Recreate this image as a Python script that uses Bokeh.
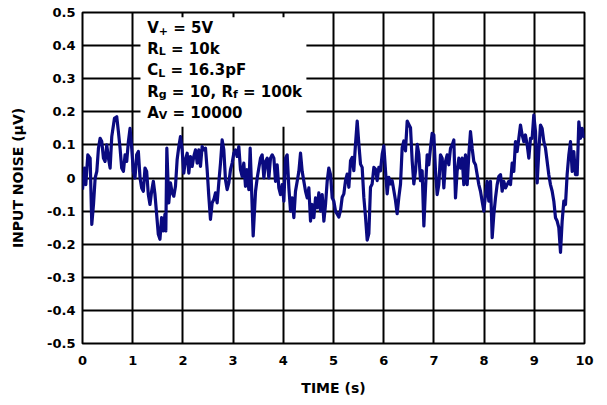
from bokeh.plotting import figure
from bokeh.models import Range1d, FixedTicker, CustomJSTickFormatter, BoxAnnotation, Label
from bokeh.embed import file_html
from bokeh.resources import INLINE

FONT = "DejaVu Sans"

# ---- data (time in s, noise in uV) ----
time_a = [0.00, 0.04, 0.066, 0.106, 0.152, 0.185, 0.219, 0.252, 0.285, 0.318,
          0.351, 0.384, 0.417, 0.450, 0.483, 0.517, 0.550, 0.583, 0.636, 0.682,
          0.715, 0.748, 0.781, 0.815, 0.848, 0.881, 0.914, 0.947, 0.980, 1.013,
          1.046, 1.079, 1.113, 1.146, 1.179, 1.212, 1.245, 1.278, 1.311, 1.344,
          1.377, 1.411, 1.444, 1.477, 1.510, 1.543, 1.576, 1.609, 1.642, 1.66, 1.68]
noise_a = [-0.035, 0.03, -0.02, 0.07, 0.06, -0.14, -0.08, 0.0, 0.02, 0.09,
           0.12, 0.11, 0.06, 0.05, 0.10, 0.06, 0.03, 0.125, 0.18, 0.185,
           0.14, 0.09, 0.03, 0.02, 0.07, 0.05, 0.11, 0.15, 0.09, 0.02,
           0.0, 0.07, 0.08, 0.0, -0.03, -0.04, 0.03, 0.02, -0.05, -0.08,
           -0.04, -0.01, -0.05, -0.11, -0.17, -0.185, -0.12, -0.16, -0.11, -0.16, 0.09]

time_b = [1.719, 1.753, 1.786, 1.819, 1.852, 1.885, 1.919, 1.952, 1.985, 2.018,
          2.051, 2.085, 2.118, 2.151, 2.184, 2.217, 2.251, 2.284, 2.317, 2.350,
          2.383, 2.417, 2.450, 2.483, 2.516, 2.549, 2.583, 2.616, 2.649, 2.682,
          2.715, 2.749, 2.782, 2.815, 2.848, 2.881, 2.915, 2.948, 2.981, 3.014,
          3.047, 3.081, 3.114, 3.147, 3.180, 3.213, 3.247, 3.280, 3.313, 3.34, 3.40]
noise_b = [-0.075, -0.015, -0.045, -0.055, -0.025, 0.055, 0.095, 0.125, 0.085, 0.015,
           0.055, 0.075, 0.015, 0.065, 0.035, 0.065, 0.085, 0.045, 0.085, 0.035,
           0.095, 0.085, 0.09, 0.025, -0.055, -0.125, -0.075, -0.065, -0.045, -0.075,
           -0.015, 0.045, 0.115, 0.085, -0.005, -0.035, -0.015, 0.025, 0.045, 0.075,
           0.085, 0.065, 0.095, 0.025, 0.005, 0.045, -0.025, 0.025, -0.035, 0.09, -0.175]

time_c = [3.447, 3.480, 3.513, 3.546, 3.579, 3.613, 3.646, 3.679, 3.712, 3.745,
          3.779, 3.812, 3.845, 3.878, 3.911, 3.945, 3.978, 4.011, 4.044, 4.077,
          4.111, 4.144, 4.177, 4.210, 4.243, 4.277, 4.310, 4.343, 4.376, 4.409,
          4.443, 4.476, 4.509, 4.542, 4.575, 4.609, 4.642, 4.675, 4.708, 4.741,
          4.775, 4.808, 4.841, 4.874, 4.907, 4.941, 4.974, 5.007, 5.040]
noise_c = [-0.04, 0.0, 0.03, 0.06, 0.07, 0.0, 0.05, 0.06, 0.0, 0.06,
           0.07, 0.06, -0.01, 0.04, -0.03, -0.05, -0.02, -0.07, 0.06, 0.07,
           -0.03, -0.10, -0.06, -0.12, -0.04, -0.01, 0.02, 0.075, 0.02, -0.01,
           -0.04, -0.06, -0.03, -0.13, -0.08, -0.12, -0.06, -0.09, -0.045, -0.10,
           -0.05, -0.13, -0.08, -0.01, 0.03, 0.01, -0.06, -0.07, -0.10]

time_d = [5.106, 5.140, 5.173, 5.206, 5.239, 5.272, 5.306, 5.339, 5.372, 5.405,
          5.438, 5.472, 5.505, 5.538, 5.571, 5.604, 5.638, 5.671, 5.704, 5.737,
          5.770, 5.804, 5.837, 5.870, 5.903, 5.936, 5.970, 6.003, 6.036, 6.069,
          6.102, 6.136, 6.169, 6.202, 6.235, 6.268, 6.302, 6.335, 6.368, 6.401,
          6.434, 6.468, 6.501, 6.534, 6.567, 6.600, 6.634, 6.667, 6.700, 6.733,
          6.766, 6.800]
noise_d = [-0.118, -0.098, -0.058, -0.048, -0.008, 0.012, -0.028, 0.052, 0.062, 0.022,
           0.102, 0.172, 0.102, 0.042, 0.032, -0.058, -0.118, -0.188, -0.168, -0.028,
           -0.018, 0.032, 0.027, -0.008, 0.032, 0.022, 0.072, 0.097, 0.022, -0.048,
           0.002, -0.018, -0.008, -0.038, -0.068, -0.108, -0.058, -0.018, 0.092, 0.112,
           0.082, 0.172, 0.162, 0.152, 0.052, -0.018, 0.022, 0.102, 0.072, -0.008,
           0.022, -0.145]

time_e = [6.833, 6.866, 6.899, 6.932, 6.965, 6.999, 7.032, 7.065, 7.098, 7.131,
          7.165, 7.198, 7.231, 7.264, 7.297, 7.331, 7.364, 7.397, 7.430, 7.463,
          7.497, 7.530, 7.563, 7.596, 7.629, 7.663, 7.696, 7.729, 7.762, 7.795,
          7.829, 7.862, 7.895, 7.928, 7.961, 7.995, 8.028, 8.061, 8.094, 8.127,
          8.161, 8.194, 8.227, 8.260, 8.293, 8.327, 8.360, 8.393, 8.426]
noise_e = [-0.03, 0.07, 0.04, 0.09, 0.135, 0.13, 0.02, -0.05, -0.02, 0.07,
           0.06, -0.03, 0.05, 0.07, 0.04, 0.09, 0.10, 0.115, -0.06, 0.02,
           0.06, 0.03, 0.06, -0.02, 0.07, -0.02, 0.07, 0.14, 0.09, 0.05,
           0.04, 0.01, -0.02, -0.04, -0.07, -0.10, -0.05, -0.01, -0.07, -0.01,
           -0.18, -0.11, -0.06, -0.02, 0.005, 0.01, -0.04, -0.01, -0.03]

time_f = [8.459, 8.492, 8.526, 8.559, 8.592, 8.625, 8.658, 8.692, 8.725, 8.758,
          8.791, 8.824, 8.858, 8.891, 8.924, 8.957, 8.990, 9.024, 9.057, 9.090,
          9.123, 9.156, 9.190, 9.223, 9.256, 9.289, 9.322, 9.356, 9.389, 9.422,
          9.455, 9.488, 9.522, 9.555, 9.588, 9.621, 9.654, 9.688, 9.721, 9.754,
          9.787, 9.820, 9.854, 9.887, 9.920, 9.953, 9.986, 10.0]
noise_f = [-0.02, -0.01, -0.02, 0.045, 0.02, 0.11, 0.08, 0.12, 0.16, 0.13,
           0.11, 0.13, 0.10, 0.06, 0.12, 0.12, 0.19, 0.14, -0.015, 0.08,
           0.16, 0.15, 0.11, 0.09, 0.05, 0.01, -0.02, -0.04, -0.07, -0.12,
           -0.13, -0.15, -0.225, -0.13, -0.07, -0.08, 0.01, 0.07, 0.11, 0.02,
           0.08, 0.01, 0.01, 0.17, 0.12, 0.15, 0.125, 0.13]

time_s = time_a + time_b + time_c + time_d + time_e + time_f
noise_uv = noise_a + noise_b + noise_c + noise_d + noise_e + noise_f

x_ticks = [0, 1, 2, 3, 4, 5, 6, 7, 8, 9, 10]
y_ticks = [-0.5, -0.4, -0.3, -0.2, -0.1, 0, 0.1, 0.2, 0.3, 0.4, 0.5]

# test-condition lines: (text, is_subscript)
conditions = [
    [("V", False), ("+", True), ("= 5V", False)],
    [("R", False), ("L", True), ("= 10k", False)],
    [("C", False), ("L", True), ("= 16.3pF", False)],
    [("R", False), ("g", True), ("= 10, R", False), ("f", True), ("= 100k", False)],
    [("A", False), ("V", True), ("= 10000", False)],
]

# ---- figure ----
p = figure(frame_width=502, frame_height=331,
           x_range=Range1d(0, 10), y_range=Range1d(-0.5, 0.5),
           output_backend="svg", toolbar_location=None,
           min_border_left=82, min_border_right=15, min_border_top=12, min_border_bottom=56,
           background_fill_color="white", border_fill_color="white")

p.xaxis.ticker = FixedTicker(ticks=x_ticks)
p.yaxis.ticker = FixedTicker(ticks=y_ticks)
p.yaxis.formatter = CustomJSTickFormatter(
    code="const s = tick.toFixed(1); return (s === '0.0' || s === '-0.0') ? '0' : s;")

for ax in (p.xaxis[0], p.yaxis[0]):
    ax.axis_line_color = None
    ax.major_tick_line_color = None
    ax.minor_tick_line_color = None
    ax.major_tick_in = 0
    ax.major_tick_out = 0
    ax.major_label_text_font = FONT
    ax.major_label_text_font_style = "bold"
    ax.major_label_text_font_size = "13px"
    ax.major_label_text_color = "black"
    ax.axis_label_text_font = FONT
    ax.axis_label_text_font_style = "bold"
    ax.axis_label_text_font_size = "14px"
    ax.axis_label_text_color = "black"

p.xaxis.axis_label = "TIME (s)"
p.yaxis.axis_label = "INPUT NOISE (µV)"
p.xaxis.major_label_standoff = 12
p.yaxis.major_label_standoff = 7
p.xaxis.axis_label_standoff = 12
p.yaxis.axis_label_standoff = 18

p.grid.grid_line_color = "black"
p.grid.grid_line_width = 2
p.grid.grid_line_alpha = 1
p.outline_line_color = "black"
p.outline_line_width = 2
p.outline_line_alpha = 1

p.line(time_s, noise_uv, line_color="#0a0a80", line_width=3.2, line_join="round")

# white box behind the conditions text
p.add_layout(BoxAnnotation(left=1.155, right=4.46, top=0.486, bottom=0.155,
                           fill_color="white", fill_alpha=1, line_color=None))

# approximate DejaVu Sans Bold advance widths (em)
W = {" ": 0.348, "+": 0.838, "=": 0.838, ",": 0.380, ".": 0.380,
     "A": 0.774, "C": 0.734, "F": 0.683, "L": 0.637, "R": 0.770, "V": 0.774,
     "f": 0.435, "g": 0.716, "k": 0.666, "p": 0.716}
for d in "0123456789":
    W[d] = 0.696

def text_w(s, size):
    return sum(W.get(ch, 0.65) for ch in s) * size

MAIN, SUB = 15, 11
x0 = 1.289
baselines = [0.454, 0.390, 0.326, 0.261, 0.197]
sub_drop = 3.0 / 331.0
for line, yb in zip(conditions, baselines):
    off = 0.0
    for i, (txt, is_sub) in enumerate(line):
        if not is_sub and i > 0:
            off += text_w(" ", MAIN)
        size = SUB if is_sub else MAIN
        p.add_layout(Label(x=x0, y=(yb - sub_drop) if is_sub else yb, x_offset=off,
                           text=txt, text_font=FONT, text_font_style="bold",
                           text_font_size=f"{size}px", text_color="black",
                           text_baseline="alphabetic", text_align="left"))
        off += text_w(txt, size)

open("out.html", "w").write(file_html(p, INLINE))
